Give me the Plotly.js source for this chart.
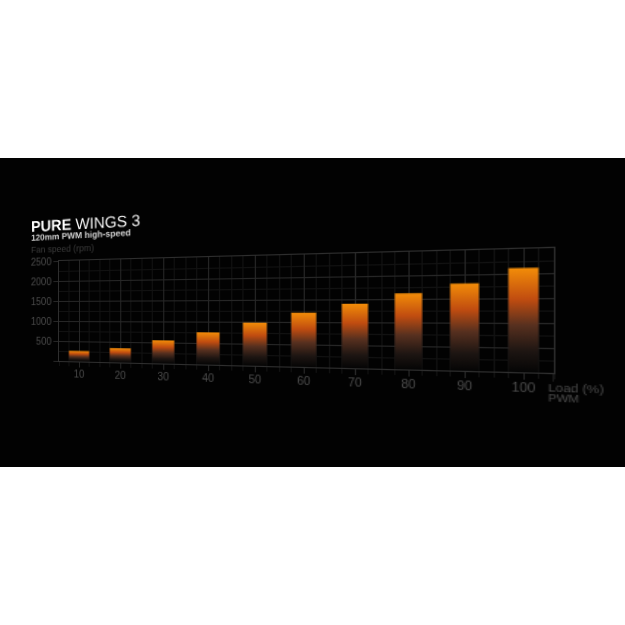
<!DOCTYPE html>
<html><head><meta charset="utf-8">
<script src="https://cdn.plot.ly/plotly-3.0.1.min.js"></script>
<style>
html,body{margin:0;padding:0;background:#fff;overflow:hidden;width:625px;height:625px}
#band{position:absolute;left:0;top:158px;width:625px;height:309px;background:#020202}
#chart{position:absolute;left:0;top:0;width:625px;height:625px;filter:blur(0.4px)}
</style></head><body>
<div id="band"></div><div id="chart"></div>
<script>
const loads = [10,20,30,40,50,60,70,80,90,100];
const fanSpeed = [260,345,550,750,980,1205,1400,1620,1815,2110];
const xTickVals = [10,20,30,40,50,60,70,80,90,100];
const xTickText = ['10','20','30','40','50','60','70','80','90','100'];
const yTickVals = [0,500,1000,1500,2000,2500];
const yTickText = ['','500','1000','1500','2000','2500'];

// plot rectangle in page pixels before the perspective transform
const L=59, T=261, W=420, H=100;
// perspective: right edge is 1.25x taller than the left edge
const a=384.2/W, b=-62.6/W, d=100/H, g=-0.2/W;
const tx=59-a*L, ty=261-d*T-b*L, w0=1-g*L;
function toSource(X,Y){
  const x=(X*w0-tx)/(a-g*X);
  const w=g*x+w0;
  const y=(Y*w-b*x-ty)/d;
  return {x:(x-L)/W, y:1-(y-T)/H};
}
function note(text,X,Y,size,color,angle){
  const p=toSource(X,Y);
  return {text:text,x:p.x,y:p.y,xref:'paper',yref:'paper',xanchor:'left',yanchor:'middle',
    showarrow:false,textangle:angle||0,font:{family:'Liberation Sans, Arial, sans-serif',size:size,color:color}};
}
const major='#262626', minor='#111111', tick='#4a4a4a';
const layout={
  width:625,height:625,autosize:false,showlegend:false,
  paper_bgcolor:'rgba(0,0,0,0)',plot_bgcolor:'rgba(0,0,0,0)',
  margin:{l:L,t:T,r:625-L-W,b:625-T-H,pad:0},
  font:{family:'Liberation Sans, Arial, sans-serif',color:tick},
  xaxis:{range:[5,105],tickmode:'array',tickvals:xTickVals,ticktext:xTickText,
    tickfont:{size:10,color:tick},ticks:'outside',ticklen:5,tickcolor:major,tickwidth:1,ticklabelstandoff:-2,
    showgrid:true,gridcolor:major,gridwidth:1,zeroline:false,showline:true,linecolor:'#2e2e2e',mirror:true,
    minor:{dtick:2.5,tick0:0,showgrid:true,gridcolor:minor,gridwidth:1,ticks:'outside',ticklen:4,tickcolor:minor}},
  yaxis:{range:[0,2500],tickmode:'array',tickvals:yTickVals,ticktext:yTickText,
    tickfont:{size:10,color:tick},ticks:'outside',ticklen:5,tickcolor:major,tickwidth:1,
    showgrid:true,gridcolor:major,gridwidth:1,zeroline:false,showline:true,linecolor:'#2e2e2e',mirror:true,
    minor:{dtick:250,tick0:0,showgrid:true,gridcolor:minor,gridwidth:1}},
  shapes:[{type:'line',xref:'x',yref:'paper',x0:105,x1:105,y0:0,y1:-0.07,line:{color:'#2e2e2e',width:1}}],
  annotations:[
    note('<b>PURE</b> WINGS 3',29,226,15.5,'#ffffff',-0.8),
    note('<b>120mm PWM high-speed</b>',29,237.5,8.8,'#d8d8d8',-0.8),
    note('Fan speed (rpm)',29,250,9,'#3a3a3a',0),
    note('Load (%)',545,388,9.2,tick),
    note('PWM',545,398,8.6,tick)
  ]
};
const trace={type:'bar',x:loads,y:fanSpeed,width:5,marker:{color:'#e8780c',line:{width:0}},hoverinfo:'skip'};
const el=document.getElementById('chart');
el.style.transformOrigin='0 0';
el.style.transform=`matrix3d(${a},${b},0,${g}, 0,${d},0,0, 0,0,1,0, ${tx},${ty},0,${w0})`;
Plotly.newPlot(el,[trace],layout,{displayModeBar:false,staticPlot:true}).then(()=>{
  const svg=el.querySelector('svg.main-svg');
  const defs=svg.querySelector('defs');
  const NS='http://www.w3.org/2000/svg';
  const g_=document.createElementNS(NS,'linearGradient');
  g_.setAttribute('id','barFade');g_.setAttribute('x1','0');g_.setAttribute('y1','0');g_.setAttribute('x2','0');g_.setAttribute('y2','1');
  [[0,'#f28c08'],[0.3,'#c04c10'],[0.55,'#57301f'],[0.8,'#1d1512'],[1,'#050505']].forEach(s=>{
    const st=document.createElementNS(NS,'stop');st.setAttribute('offset',s[0]);st.setAttribute('stop-color',s[1]);g_.appendChild(st);
  });
  defs.appendChild(g_);
  el.querySelectorAll('.barlayer .point path').forEach(p=>{p.style.fill='url(#barFade)';p.style.fillOpacity=1;});
});
</script>
</body></html>
